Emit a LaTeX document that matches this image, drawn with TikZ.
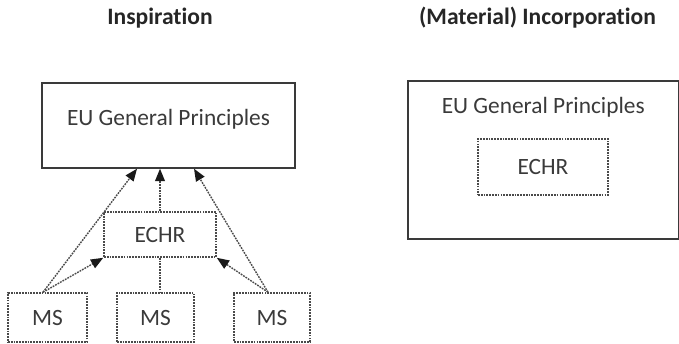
\documentclass[tikz,border=0pt]{standalone}
\usepackage{fontspec}
\setmainfont{Carlito}[Ligatures=NoCommon]
\usetikzlibrary{arrows.meta}
\definecolor{inkgray}{HTML}{3A3A3A}
\definecolor{dotgray}{HTML}{4A4A4A}
\begin{document}
\begin{tikzpicture}[x=0.02cm, y=-0.02cm, >={Triangle[length=7pt,width=5.5pt,color=black!90]},
  font=\fontsize{13.3}{15}\selectfont,
  heading/.style={anchor=base, text=black!85, font=\bfseries\fontsize{13.4}{15}\selectfont},
  solidbox/.style={draw=inkgray, line width=0.8pt, inner sep=0pt, text=inkgray},
  dotbox/.style={draw=dotgray, dash pattern=on 1pt off 0.6pt, line width=0.9pt, inner sep=0pt, text=inkgray},
  link/.style={draw=dotgray, dash pattern=on 1pt off 0.6pt, line width=0.8pt}]
\useasboundingbox (0,0) rectangle (679,343);

% left: inspiration
\node[heading] (tleft) at (160,24) {Inspiration};
\node[solidbox, anchor=base, minimum width=5.06cm, text height=0.84cm, text depth=0.86cm] (eu) at (168.5,125) {EU General Principles};
\node[dotbox, minimum width=2.24cm, minimum height=0.9cm] (echr) at (160,234.5) {ECHR};
\node[dotbox, minimum width=1.58cm, minimum height=0.98cm] (ms1) at (47.5,317.5) {MS};
\node[dotbox, minimum width=1.54cm, minimum height=0.98cm] (ms2) at (155.5,317.5) {MS};
\node[dotbox, minimum width=1.52cm, minimum height=0.98cm] (ms3) at (272,317.5) {MS};

\draw[link, ->] ([xshift=-0.09cm]ms1.north) -- ([xshift=-0.63cm]eu.south);
\draw[link, ->] ([xshift=-0.09cm]ms1.north) -- (echr.south west);
\draw[link] (echr.south) -- (echr.south |- ms2.north);
\draw[link, ->] (echr.north) -- (echr.north |- eu.south);
\draw[link, ->] ([xshift=-0.08cm]ms3.north) -- ([xshift=0.51cm]eu.south);
\draw[link, ->] ([xshift=-0.08cm]ms3.north) -- (echr.south east);

% right: incorporation
\node[heading] (tright) at (537.5,24) {(Material) Incorporation};
\node[solidbox, anchor=base, minimum width=5.41cm, text height=0.64cm, text depth=2.52cm] (euinc) at (543.25,113) {EU General Principles};
\node[dotbox, minimum width=2.6cm, minimum height=1.12cm] (echrinc) at (543,167) {ECHR};
\end{tikzpicture}
\end{document}
